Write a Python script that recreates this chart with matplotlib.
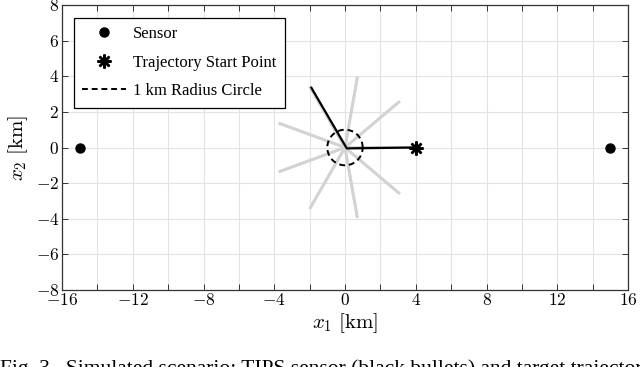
import matplotlib
matplotlib.use("Agg")
import matplotlib.pyplot as plt
import numpy as np
from matplotlib.lines import Line2D

plt.rcParams['font.family'] = ['Liberation Serif', 'DejaVu Serif']
plt.rcParams['mathtext.fontset'] = 'cm'
plt.rcParams['axes.unicode_minus'] = True

# Data
sensor_x = [-15, 15]
sensor_y = [0, 0]
start_point = (4.0, 0.0)
# gray trajectories: start -> origin -> end
traj_start_x = [4.0, 3.1, 0.7, -2.0, -3.75, -3.75, -2.0, 0.7, 3.1]
traj_start_y = [0.0, 2.6, 3.95, 3.45, 1.37, -1.37, -3.45, -3.95, -2.6]
traj_end_x = [-2.0, -3.75, -3.75, -2.0, 0.7, 3.1, 4.0, 3.1, 0.7]
traj_end_y = [3.45, 1.37, -1.37, -3.45, -3.95, -2.6, 0.0, 2.6, 3.95]
# highlighted (black) trajectory
black_x = [4.0, 0.1, -1.9]
black_y = [0.0, -0.05, 3.35]
circle_radius = 1.0

x_ticks = [-16, -12, -8, -4, 0, 4, 8, 12, 16]
y_ticks = [-8, -6, -4, -2, 0, 2, 4, 6, 8]

fig = plt.figure(figsize=(6.4, 3.67), dpi=100)
ax = fig.add_axes([62/640, 1-290/367, 566/640, 285/367])

for sx, sy, ex, ey in zip(traj_start_x, traj_start_y, traj_end_x, traj_end_y):
    ax.plot([sx, 0, ex], [sy, 0, ey], color='#d3d3d3', lw=2.0, zorder=2, solid_capstyle='butt')

ax.plot(black_x, black_y, color='black', lw=1.6, zorder=3)

th = np.linspace(0, 2*np.pi, 200)
ax.plot(circle_radius*np.cos(th), circle_radius*np.sin(th), color='black', lw=1.4,
        ls=(0, (3, 2)), zorder=4)

ax.plot(sensor_x, sensor_y, 'o', color='black', ms=6.5, zorder=5, ls='none')
ax.plot([start_point[0]], [start_point[1]], marker=(8, 2, 0), color='black', ms=10,
        mew=1.8, ls='none', zorder=5)

ax.set_xlim(-16, 16)
ax.set_ylim(-8, 8)
ax.set_xticks(x_ticks)
ax.set_xticks(np.arange(-16, 17, 2), minor=True)
ax.set_yticks(y_ticks)
ax.grid(True, which='both', color='#e3e3e3', lw=0.8, zorder=0)
ax.set_axisbelow(True)
ax.tick_params(which='both', direction='in', top=True, right=True, length=4,
               width=0.7, labelsize=12.5, color='#333333', pad=2)
ax.set_xticklabels([f"${v}$" for v in x_ticks])
ax.set_yticklabels([f"${v}$" for v in y_ticks])
for s in ax.spines.values():
    s.set_color('#333333')
    s.set_linewidth(0.9)

ax.set_xlabel(r'$x_1\ [\mathrm{km}]$', fontsize=15, labelpad=2)
ax.set_ylabel(r'$x_2\ [\mathrm{km}]$', fontsize=15, labelpad=4)

handles = [
    Line2D([], [], marker='o', color='black', ls='none', ms=6.5),
    Line2D([], [], marker=(8, 2, 0), color='black', ls='none', ms=10, mew=1.8),
    Line2D([], [], color='black', ls=(0, (3, 2)), lw=1.4),
]
labels = ['Sensor', 'Trajectory Start Point', '1 km Radius Circle']
leg = ax.legend(handles, labels, loc='upper left', bbox_to_anchor=(12/566, 1-13/285),
                borderaxespad=0, fontsize=12, frameon=True, fancybox=False,
                edgecolor='black', framealpha=1, handlelength=2.6, borderpad=0.5,
                labelspacing=0.75, handletextpad=0.45)
leg.get_frame().set_linewidth(0.9)

fig.text(0.0, 1-359/367, 'Fig. 3.  Simulated scenario: TIPS sensor (black bullets) and target trajectories',
         fontsize=15.5, va='top', ha='left')

fig.savefig('out.png', dpi=100)
